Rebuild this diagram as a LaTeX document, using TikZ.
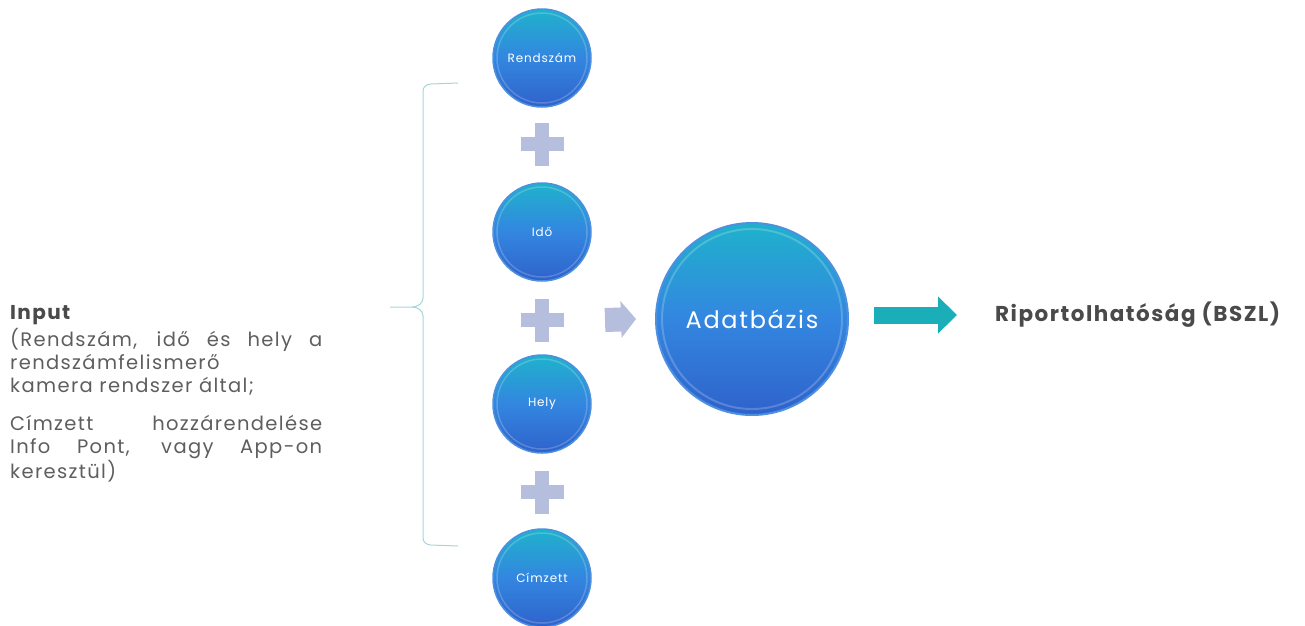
\documentclass[tikz,border=0pt]{standalone}
\usepackage{fontspec}
\setmainfont{Poppins}
\newfontfamily\widefont[LetterSpace=7]{Poppins}
\usepackage{xcolor}
\usetikzlibrary{calc,arrows.meta}
\definecolor{circtop}{HTML}{1FB2CC}
\definecolor{circmid}{HTML}{3386E0}
\definecolor{circbot}{HTML}{2F62CB}
\definecolor{circrim}{HTML}{4F8FE0}
\definecolor{plusgray}{HTML}{B6BEDD}
\definecolor{arrowteal}{HTML}{1AAFB8}
\definecolor{textgray}{HTML}{5E5E5E}
\definecolor{headgray}{HTML}{4A4A4A}
\definecolor{bracecol}{HTML}{A6D6DA}
\tikzset{
	smallcirc/.style={circle,minimum size=98pt,inner sep=0pt,shading=axis,top color=circtop,bottom color=circbot,middle color=circmid,draw=circrim,line width=1.5pt,text=white,font=\widefont\fontsize{12}{13}\selectfont,%
		path picture={\draw[white,opacity=0.2,line width=1.5pt] (path picture bounding box.center) circle (45);}},%
	bigcirc/.style={smallcirc,minimum size=192pt,line width=2pt,font=\widefont\fontsize{24}{28}\selectfont,%
		path picture={\draw[white,opacity=0.2,line width=2pt] (path picture bounding box.center) circle (90);}},%
	plusnode/.style={minimum size=44pt,inner sep=0pt,path picture={%
		\fill[plusgray] ([xshift=-21.5pt,yshift=-7pt]path picture bounding box.center) rectangle ([xshift=21.5pt,yshift=7pt]path picture bounding box.center);%
		\fill[plusgray] ([xshift=-7pt,yshift=-21.5pt]path picture bounding box.center) rectangle ([xshift=7pt,yshift=21.5pt]path picture bounding box.center);}},%
	bracket/.style={bracecol,line width=1pt},%
	grayarrow/.style={plusgray,line width=24pt,-{Triangle[length=15pt,width=36pt]}},%
	tealarrow/.style={arrowteal,line width=17pt,-{Triangle[length=19pt,width=36pt]}},%
	bodytext/.style={align=left,text=textgray,inner sep=0pt,font=\widefont\fontsize{19.5}{23}\selectfont},%
	reporttext/.style={text=headgray,inner sep=0pt,font=\widefont\fontsize{21.5}{24}\selectfont\bfseries},%
}
\def\colx{542}
\newcommand\fullline[1]{\makebox[312pt][s]{#1}}
\begin{document}
\begin{tikzpicture}[%
		x=1pt,y=-1pt,%
		]
		\useasboundingbox (0,0) rectangle (1305,625);
		\node[smallcirc] (rendszam) at (\colx,58) {Rendszám};
		\node[smallcirc] (ido) at (\colx,232) {Idő};
		\node[smallcirc] (hely) at (\colx,404) {Hely};
		\node[smallcirc] (cimzett) at (\colx,578) {Címzett};
		\node[plusnode] (plus1) at (\colx,144) {};
		\node[plusnode] (plus2) at (\colx,320) {};
		\node[plusnode] (plus3) at (\colx,492) {};
		\node[bigcirc] (db) at (752,319) {Adatbázis};
		\node[reporttext,anchor=west] (report) at (995,315) {Riportolhatóság (BSZL)};
		\node[bodytext,anchor=north west] (input) at (10,305) {%
			{\color{headgray}\fontsize{20}{23}\selectfont\bfseries Input}\\[3pt]
			\fullline{(Rendszám, idő és hely a}\\
			rendszámfelismerő\\
			kamera rendszer által;\\[15pt]
			\fullline{Címzett hozzárendelése}\\
			\fullline{Info Pont, vagy App-on}\\
			keresztül)};
		\draw[grayarrow] ([xshift=63pt]plus2.center) -- ([xshift=-19pt]db.west);
		\draw[tealarrow] ($(db.east |- report.west)+(25,0)$) -- ([xshift=-38pt]report.west);
		\draw[bracket] (458,83) -- (431,84) to[out=180,in=90] (423,91) -- (423,298) to[out=-90,in=0] (412,307) -- (390,307);
		\draw[bracket] (412,307) to[out=0,in=90] (423,316) -- (423,538) to[out=-90,in=180] (431,545) -- (458,546);
	\end{tikzpicture}
\end{document}
